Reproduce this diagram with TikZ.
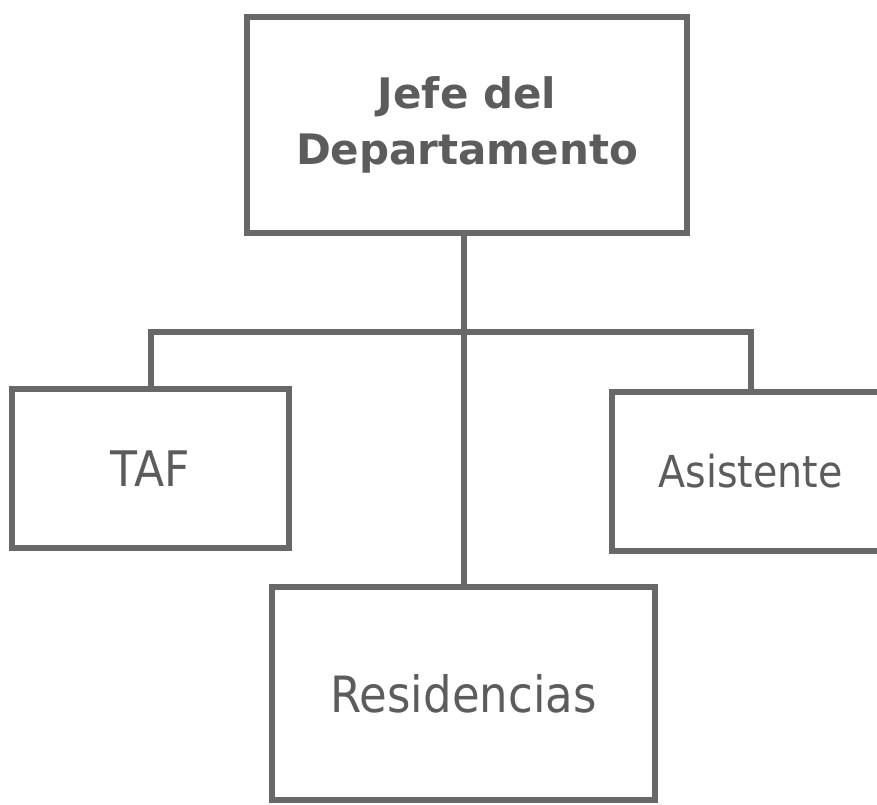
\documentclass[tikz,border=0pt]{standalone}
\usepackage{fontspec}
\setmainfont{DejaVu Sans}
\newfontfamily\condfont[FakeStretch=0.9]{DejaVu Sans}
\definecolor{linegray}{HTML}{686868}
\definecolor{textgray}{HTML}{5C5C5C}
\tikzset{
  orgbox/.style={draw=linegray, line width=6pt, rectangle, inner sep=0pt, text=textgray, align=center},
  conn/.style={draw=linegray, line width=6pt}
}
\begin{document}
\begin{tikzpicture}[x=1pt,y=-1pt]
\useasboundingbox (0,0) rectangle (877,804);
\fill[white] (0,0) rectangle (877,804);
\clip (0,0) rectangle (877,804);
\node[orgbox, minimum width=440pt, minimum height=216pt, font=\fontsize{42}{56}\selectfont\bfseries] (jefe) at (467,125) {Jefe del\\Departamento};
\node[orgbox, minimum width=277pt, minimum height=159pt, font=\condfont\fontsize{49}{54}\selectfont] (taf) at (150.5,468.5) {TAF};
\node[orgbox, minimum width=277pt, minimum height=159pt, font=\condfont\fontsize{44}{50}\selectfont] (asis) at (750.5,471.5) {Asistente};
\node[orgbox, minimum width=383pt, minimum height=213pt, font=\condfont\fontsize{50}{56}\selectfont] (res) at (463.5,693.5) {Residencias};
\coordinate (bus) at (463,332);
\draw[conn] (jefe.south -| res.north) -- (res.north);
\draw[conn] (taf.north) -- (taf.north |- bus) -- (asis.north |- bus) -- (asis.north);
\end{tikzpicture}
\end{document}
